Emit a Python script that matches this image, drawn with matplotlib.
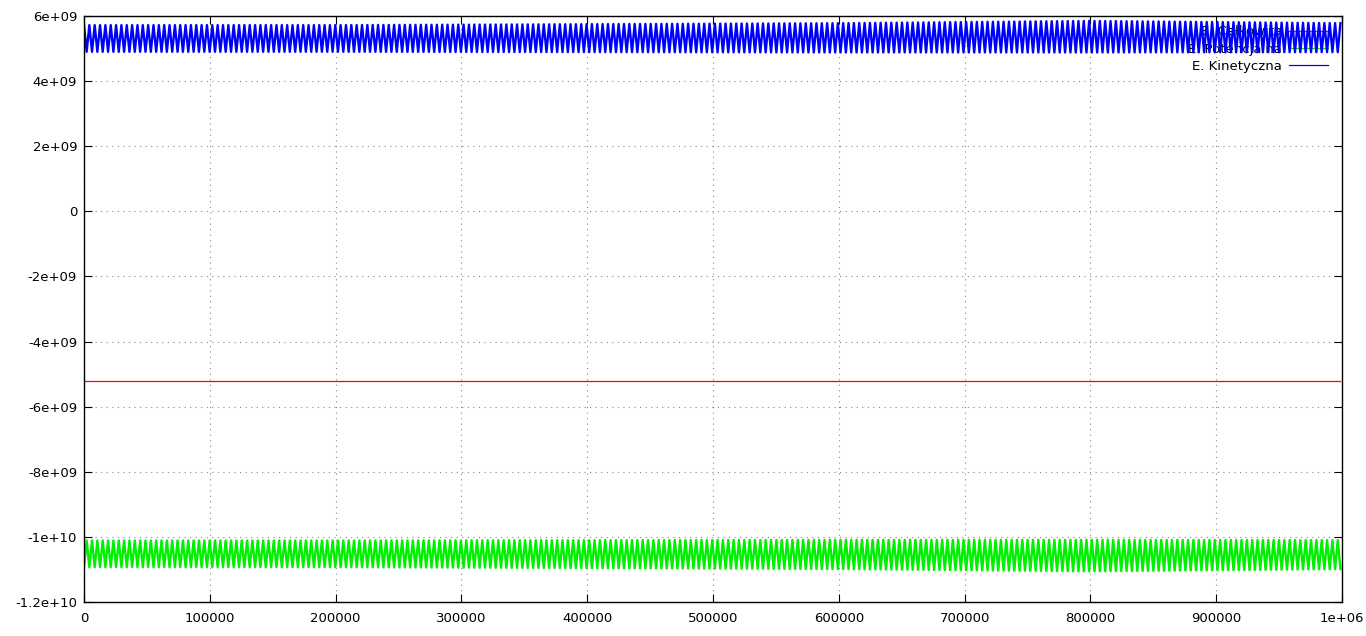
import numpy as np
import matplotlib
matplotlib.use('Agg')
import matplotlib.pyplot as plt
from matplotlib.ticker import FuncFormatter, MultipleLocator

# values
env_t = [0, 200000, 400000, 600000, 800000, 1000000]
kin_max = [5.72e9, 5.72e9, 5.75e9, 5.78e9, 5.85e9, 5.78e9]
kin_min = [4.90e9, 4.90e9, 4.89e9, 4.88e9, 4.88e9, 4.89e9]
pot_max = [-1.011e10, -1.011e10, -1.010e10, -1.009e10, -1.009e10, -1.010e10]
pot_min = [-1.093e10, -1.093e10, -1.096e10, -1.099e10, -1.106e10, -1.099e10]
total_val = -5.21e9
period = 4250
t_end = 1000000

labels = ['E. Całkowita', 'E. Potencjalna', 'E. Kinetyczna']
colors = ['#ff0000', '#00f000', '#0000ff']

# zigzag through peaks and troughs (half period apart)
t = np.arange(0, t_end + 1, period / 2)
hi = np.arange(len(t)) % 2 == 0
kin = np.where(hi, np.interp(t, env_t, kin_max), np.interp(t, env_t, kin_min))
pot = np.where(hi, np.interp(t, env_t, pot_min), np.interp(t, env_t, pot_max))
tot = np.full_like(t, total_val)

fig = plt.figure(figsize=(13.66, 6.36), dpi=100)
ax = fig.add_axes([84 / 1366, 34 / 636, 1258 / 1366, 586 / 636])

ax.plot(t, tot, color=colors[0], lw=0.9, label=labels[0])
ax.plot(t, pot, color=colors[1], lw=1.7, label=labels[1])
ax.plot(t, kin, color=colors[2], lw=1.7, label=labels[2])

ax.set_xlim(0, 1e6)
ax.set_ylim(-1.2e10, 6e9)
ax.xaxis.set_major_locator(MultipleLocator(100000))
ax.yaxis.set_major_locator(MultipleLocator(2e9))
fmt = FuncFormatter(lambda v, p: '%g' % v)
ax.xaxis.set_major_formatter(fmt)
ax.yaxis.set_major_formatter(fmt)
ax.tick_params(direction='in', length=6, width=0.8, top=True, right=True,
               labelsize=9.5, colors='black')
ax.tick_params(axis='x', pad=7)
ax.tick_params(axis='y', pad=5)
ax.grid(True, color='#888888', linestyle=(0, (1, 4)), lw=0.8)
for s in ax.spines.values():
    s.set_linewidth(1.0)

leg = ax.legend(loc='upper right', frameon=False, markerfirst=False,
                fontsize=9.5, handlelength=3.0, handletextpad=0.5,
                labelspacing=0.33, borderaxespad=0.3, bbox_to_anchor=(0.9965, 1.0))
leg.set_zorder(1)
for line in leg.get_lines():
    line.set_linewidth(0.9)

fig.savefig('out.png', dpi=100)
